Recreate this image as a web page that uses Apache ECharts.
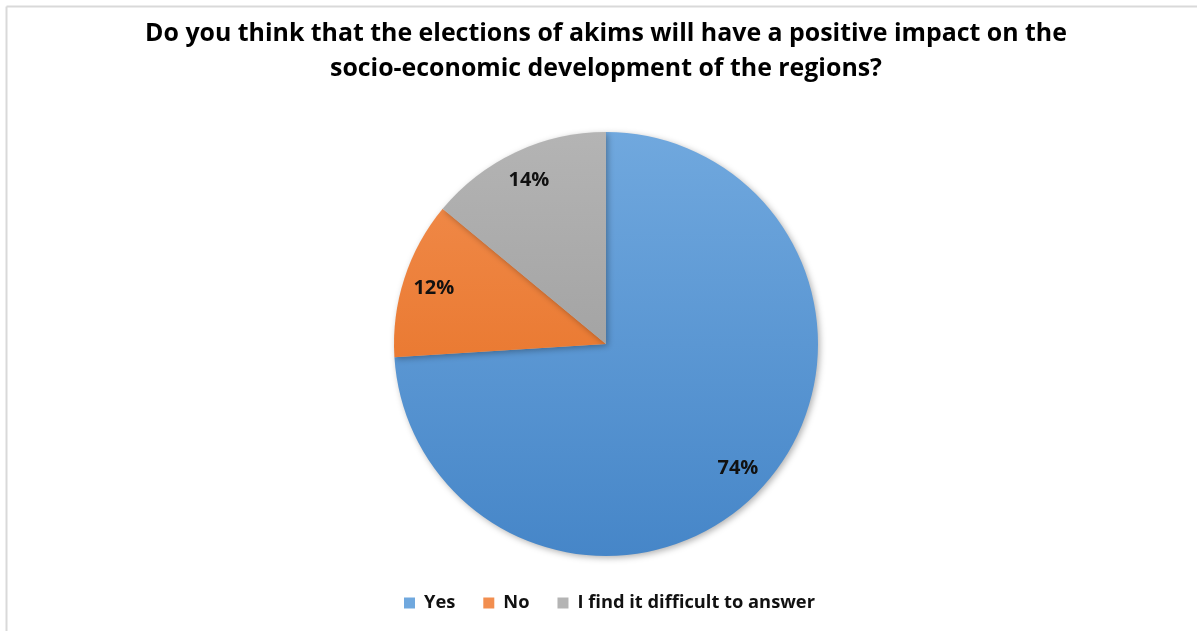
<!DOCTYPE html>
<html>
<head>
<meta charset="utf-8">
<script src="https://cdn.jsdelivr.net/npm/echarts@6/dist/echarts.min.js"></script>
<style>
html, body { margin: 0; padding: 0; background: #fff; }
#chart { width: 1197px; height: 631px; }
</style>
</head>
<body>
<div id="chart"></div>
<script>
// answers and shares (%)
var categories = ['Yes', 'No', 'I find it difficult to answer'];
var values = [74, 12, 14];
var topColors = ['#70a8de', '#f28e4f', '#b4b4b4'];
var bottomColors = ['#4686c8', '#e3691a', '#949494'];

var cx = 606, cy = 344, r = 212;

function grad(i) {
    return {
        type: 'linear', global: true,
        x: 0, y: cy - r, x2: 0, y2: cy + r,
        colorStops: [
            { offset: 0, color: topColors[i] },
            { offset: 1, color: bottomColors[i] }
        ]
    };
}

var pieData = categories.map(function (name, i) {
    return { name: name, value: values[i], itemStyle: { color: grad(i) } };
});
var labelData = categories.map(function (name, i) {
    return { name: name, value: values[i] };
});

var myChart = echarts.init(document.getElementById('chart'));
var option = {
    animation: false,
    title: {
        text: 'Do you think that the elections of akims will have a positive impact on the\nsocio-economic development of the regions?',
        left: 601,
        textAlign: 'center',
        top: 11,
        textStyle: {
            fontFamily: 'Open Sans',
            fontWeight: 'bold',
            fontSize: 24.9,
            lineHeight: 35,
            color: '#000'
        }
    },
    legend: {
        bottom: 14,
        left: 399,
        icon: 'rect',
        itemWidth: 11,
        itemHeight: 11,
        itemGap: 28,
        data: categories,
        textStyle: {
            fontFamily: 'Open Sans',
            fontWeight: 'bold',
            fontSize: 18.3,
            color: '#111',
            padding: [0, 0, 0, 4]
        }
    },
    color: bottomColors,
    graphic: [
        { type: 'line', shape: { x1: 6.5, y1: 6.5, x2: 1197, y2: 6.5 }, style: { stroke: '#d9d9d9', lineWidth: 2 } },
        { type: 'line', shape: { x1: 6.5, y1: 6.5, x2: 6.5, y2: 631 }, style: { stroke: '#d9d9d9', lineWidth: 2 } }
    ],
    series: [
        {
            type: 'pie',
            center: [cx, cy],
            radius: [0, r],
            startAngle: 90,
            clockwise: true,
            label: { show: false },
            labelLine: { show: false },
            itemStyle: {
                shadowBlur: 6,
                shadowOffsetX: 2,
                shadowOffsetY: 2,
                shadowColor: 'rgba(0,0,0,0.3)'
            },
            emphasis: { disabled: true },
            data: pieData
        },
        {
            // ghost ring only used to place the percentage labels
            type: 'pie',
            center: [cx, cy],
            radius: [160, 196],
            startAngle: 90,
            clockwise: true,
            silent: true,
            legendHoverLink: false,
            itemStyle: { color: 'rgba(0,0,0,0)' },
            label: {
                show: true,
                position: 'inside',
                formatter: '{c}%',
                fontFamily: 'Open Sans',
                fontWeight: 'bold',
                fontSize: 20,
                color: '#111'
            },
            labelLine: { show: false },
            emphasis: { disabled: true },
            tooltip: { show: false },
            data: labelData
        }
    ]
};
myChart.setOption(option);
</script>
</body>
</html>
